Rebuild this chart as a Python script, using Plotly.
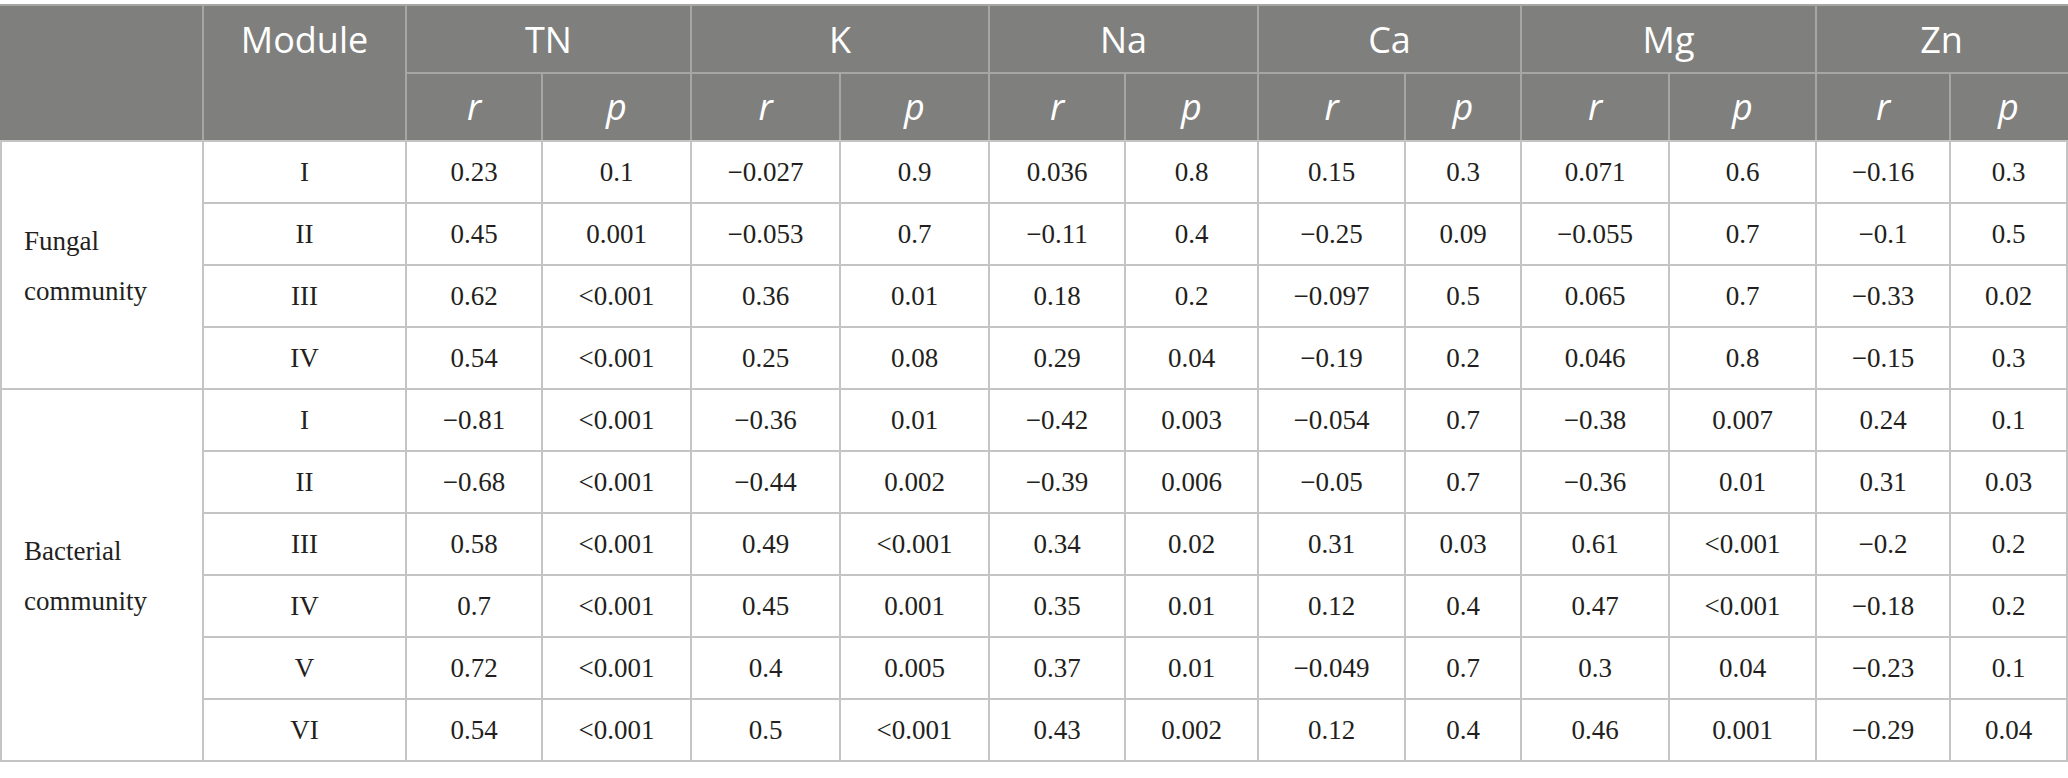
import plotly.graph_objects as go

# table contents
elements = ["TN", "K", "Na", "Ca", "Mg", "Zn"]
stats = ["r", "p"]
communities = [["Fungal", "community"], ["Bacterial", "community"]]
group_sizes = [4, 6]
modules = ["I", "II", "III", "IV", "I", "II", "III", "IV", "V", "VI"]

tn_r = ["0.23", "0.45", "0.62", "0.54", "−0.81", "−0.68", "0.58", "0.7", "0.72", "0.54"]
tn_p = ["0.1", "0.001", "<0.001", "<0.001", "<0.001", "<0.001", "<0.001", "<0.001", "<0.001", "<0.001"]
k_r = ["−0.027", "−0.053", "0.36", "0.25", "−0.36", "−0.44", "0.49", "0.45", "0.4", "0.5"]
k_p = ["0.9", "0.7", "0.01", "0.08", "0.01", "0.002", "<0.001", "0.001", "0.005", "<0.001"]
na_r = ["0.036", "−0.11", "0.18", "0.29", "−0.42", "−0.39", "0.34", "0.35", "0.37", "0.43"]
na_p = ["0.8", "0.4", "0.2", "0.04", "0.003", "0.006", "0.02", "0.01", "0.01", "0.002"]
ca_r = ["0.15", "−0.25", "−0.097", "−0.19", "−0.054", "−0.05", "0.31", "0.12", "−0.049", "0.12"]
ca_p = ["0.3", "0.09", "0.5", "0.2", "0.7", "0.7", "0.03", "0.4", "0.7", "0.4"]
mg_r = ["0.071", "−0.055", "0.065", "0.046", "−0.38", "−0.36", "0.61", "0.47", "0.3", "0.46"]
mg_p = ["0.6", "0.7", "0.7", "0.8", "0.007", "0.01", "<0.001", "<0.001", "0.04", "0.001"]
zn_r = ["−0.16", "−0.1", "−0.33", "−0.15", "0.24", "0.31", "−0.2", "−0.18", "−0.23", "−0.29"]
zn_p = ["0.3", "0.5", "0.02", "0.3", "0.1", "0.03", "0.2", "0.2", "0.1", "0.04"]

value_cols = [tn_r, tn_p, k_r, k_p, na_r, na_p, ca_r, ca_p, mg_r, mg_p, zn_r, zn_p]

# layout of the grid (pixels)
col_edges = [1, 203, 406, 542, 691, 840, 989, 1125, 1258, 1405, 1521, 1669, 1816, 1950, 2067]
top, head_mid, head_bot = 5, 73, 141
row_h = 62
W, H = 2068, 778

head_bg = "#7f807e"
head_line = "#a6a7a5"
body_line = "#c4c4c4"
text_col = "#231f20"
serif = "Liberation Serif, Times New Roman, serif"
sans = "Open Sans, Noto Sans, sans-serif"
head_size = 36
body_size = 27
dy = 2  # small nudge so digits sit like the reference

row_edges = [head_bot + i * row_h for i in range(len(modules) + 1)]
row_mid = [(row_edges[i] + row_edges[i + 1]) / 2 + dy for i in range(len(modules))]
col_mid = [(col_edges[i] + col_edges[i + 1]) / 2 for i in range(len(col_edges) - 1)]

fig = go.Figure()
shapes = []

# header background
shapes.append(dict(type="rect", x0=0, x1=W, y0=top, y1=head_bot,
                   fillcolor=head_bg, line=dict(width=0), layer="below"))
shapes.append(dict(type="line", x0=0, x1=W, y0=top, y1=top,
                   line=dict(color=head_line, width=2)))
shapes.append(dict(type="line", x0=col_edges[2], x1=W, y0=head_mid, y1=head_mid,
                   line=dict(color=head_line, width=2)))
for i, x in enumerate(col_edges):
    if i in (0, len(col_edges) - 1):
        continue
    y0 = top if (i <= 2 or i % 2 == 0) else head_mid
    shapes.append(dict(type="line", x0=x, x1=x, y0=y0, y1=head_bot,
                       line=dict(color=head_line, width=2)))

# body grid
group_edges = [0]
for g in group_sizes:
    group_edges.append(group_edges[-1] + g)
for i, y in enumerate(row_edges):
    x0 = 0 if i in group_edges else col_edges[1]
    shapes.append(dict(type="line", x0=x0, x1=W, y0=y, y1=y,
                       line=dict(color=body_line, width=2)))
for x in col_edges:
    shapes.append(dict(type="line", x0=x, x1=x, y0=head_bot, y1=row_edges[-1],
                       line=dict(color=body_line, width=2)))

# header text
fig.add_trace(go.Scatter(
    x=[col_mid[1]] + [(col_edges[2 + 2 * i] + col_edges[4 + 2 * i]) / 2 for i in range(len(elements))],
    y=[(top + head_mid) / 2 + 5] * (len(elements) + 1),
    text=["Module"] + elements, mode="text",
    textfont=dict(family=sans, size=head_size, color="white"), hoverinfo="skip"))
fig.add_trace(go.Scatter(
    x=col_mid[2:], y=[(head_mid + head_bot) / 2 + 4] * len(value_cols),
    text=["<i>%s</i>" % stats[i % 2] for i in range(len(value_cols))], mode="text",
    textfont=dict(family=sans, size=head_size, color="white"), hoverinfo="skip"))

# community labels (left aligned, vertically centred in merged cell)
for k, lines in enumerate(communities):
    y_c = (row_edges[group_edges[k]] + row_edges[group_edges[k + 1]]) / 2
    for n, word in enumerate(lines):
        fig.add_annotation(x=22, y=y_c - 24 + 50 * n, text=word, showarrow=False,
                           xanchor="left", yanchor="middle", align="left",
                           font=dict(family=serif, size=body_size, color=text_col))

# module names and values
fig.add_trace(go.Scatter(
    x=[col_mid[1]] * len(modules), y=row_mid, text=modules, mode="text",
    textfont=dict(family=serif, size=body_size, color=text_col), hoverinfo="skip"))
for j, col in enumerate(value_cols):
    fig.add_trace(go.Scatter(
        x=[col_mid[2 + j]] * len(col), y=row_mid, text=col, mode="text",
        textfont=dict(family=serif, size=body_size, color=text_col), hoverinfo="skip"))

fig.update_layout(
    width=W, height=H, margin=dict(l=0, r=0, t=0, b=0),
    paper_bgcolor="white", plot_bgcolor="white", showlegend=False,
    shapes=shapes,
    xaxis=dict(range=[0, W], visible=False, fixedrange=True),
    yaxis=dict(range=[H, 0], visible=False, fixedrange=True),
)

fig.write_html("out.html", config={"displayModeBar": False},
               post_script="document.body.style.margin='0';")
